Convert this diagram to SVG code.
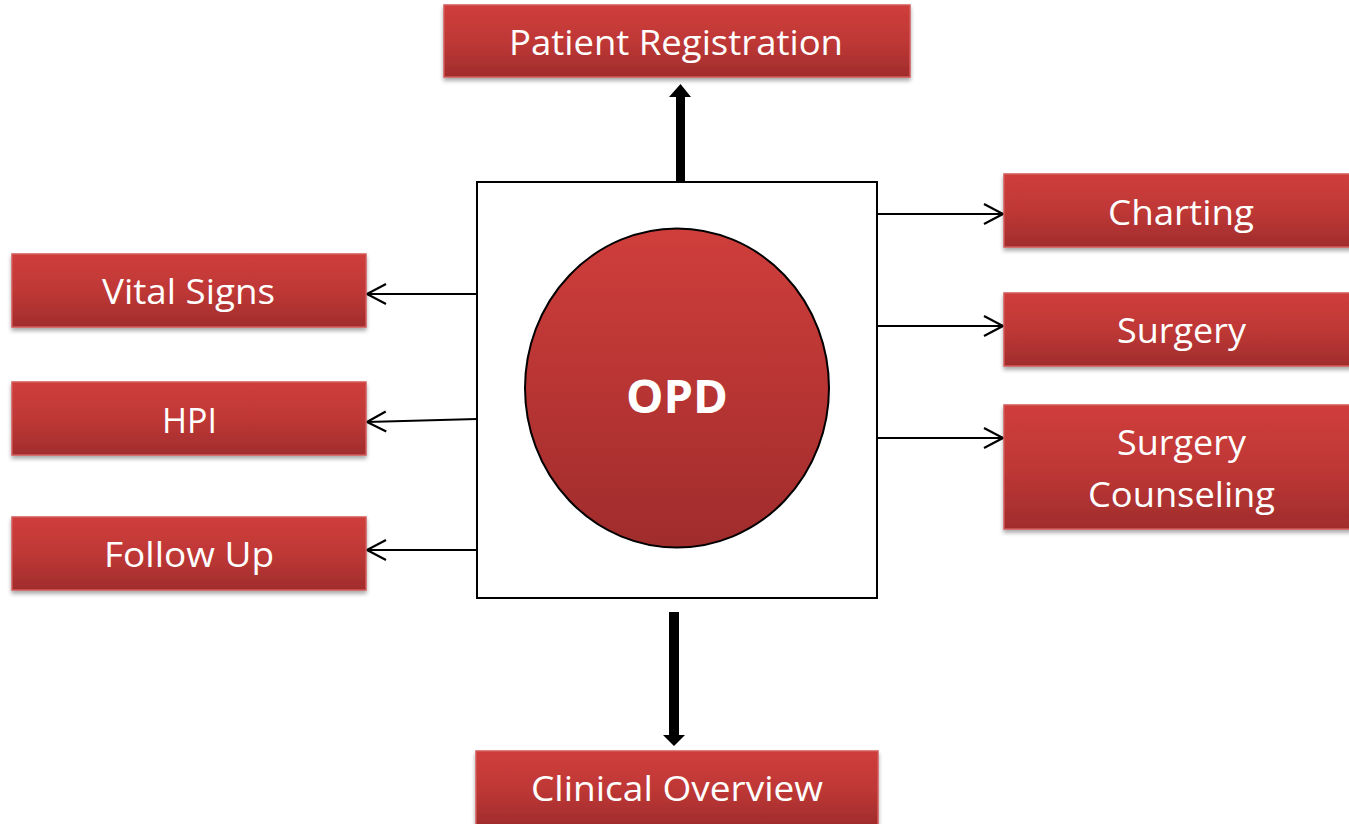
<svg xmlns="http://www.w3.org/2000/svg" width="1349" height="824" viewBox="0 0 1349 824">
<style>
.box{fill:url(#redg);stroke:#d25a58;stroke-width:1.5;filter:url(#sh)}
.lbl{font-family:"Open Sans","Liberation Sans",sans-serif;font-size:34px;fill:#ffffff;text-anchor:middle}
.thin{stroke:#000;stroke-width:2;fill:none;marker-end:url(#open)}
.thick{fill:#000}
</style>
<defs>
<linearGradient id="redg" x1="0" y1="0" x2="0" y2="1">
<stop offset="0" stop-color="#cf3d3b"/>
<stop offset="0.5" stop-color="#bf3836"/>
<stop offset="1" stop-color="#a12c2c"/>
</linearGradient>
<linearGradient id="circg" x1="0" y1="0" x2="0" y2="1">
<stop offset="0" stop-color="#cf3e3b"/>
<stop offset="1" stop-color="#a02c2c"/>
</linearGradient>
<filter id="sh" x="-5%" y="-10%" width="110%" height="130%">
<feGaussianBlur in="SourceAlpha" stdDeviation="2"/>
<feOffset dy="3" result="b"/>
<feComponentTransfer><feFuncA type="linear" slope="0.35"/></feComponentTransfer>
<feMerge><feMergeNode/><feMergeNode in="SourceGraphic"/></feMerge>
</filter>
<marker id="open" markerUnits="userSpaceOnUse" markerWidth="24" markerHeight="24" viewBox="-20 -12 24 24" refX="0" refY="0" orient="auto">
<path d="M-19,-10 L0,0 L-19,10" fill="none" stroke="#000" stroke-width="2.2"/>
</marker>
</defs>
<rect width="1349" height="824" fill="#fff"/>

<g id="center">
<rect x="477" y="182" width="400" height="416" fill="#fff" stroke="#000" stroke-width="2"/>
<ellipse cx="677" cy="388" rx="152" ry="159.5" fill="url(#circg)" stroke="#000" stroke-width="2"/>
<text x="677" y="413" font-family="'Open Sans','Liberation Sans',sans-serif" font-size="46" font-weight="bold" fill="#fff" text-anchor="middle" textLength="102" lengthAdjust="spacingAndGlyphs">OPD</text>
</g>

<g id="connectors">
<polygon class="thick" points="676,183 685,183 685,97 691,97 680.5,84 669,97 676,97"/>
<polygon class="thick" points="669,612 679,612 679,735 685,735 674,746 663,735 669,735"/>
<line class="thin" x1="477" y1="294" x2="367" y2="294"/>
<line class="thin" x1="477" y1="419" x2="367" y2="422"/>
<line class="thin" x1="477" y1="550" x2="367" y2="550"/>
<line class="thin" x1="877" y1="214" x2="1003" y2="214"/>
<line class="thin" x1="877" y1="326" x2="1003" y2="326"/>
<line class="thin" x1="877" y1="438" x2="1003" y2="438"/>
</g>

<g id="patient-registration">
<rect class="box" x="444" y="5" width="466" height="72"/>
<text class="lbl" x="676" y="55" textLength="334" lengthAdjust="spacingAndGlyphs">Patient Registration</text>
</g>
<g id="vital-signs">
<rect class="box" x="12" y="254" width="354" height="73"/>
<text class="lbl" x="188.5" y="304" textLength="173" lengthAdjust="spacingAndGlyphs">Vital Signs</text>
</g>
<g id="hpi">
<rect class="box" x="12" y="382" width="354" height="73"/>
<text class="lbl" x="189.5" y="433" textLength="55" lengthAdjust="spacingAndGlyphs">HPI</text>
</g>
<g id="follow-up">
<rect class="box" x="12" y="517" width="354" height="73"/>
<text class="lbl" x="189" y="567" textLength="170" lengthAdjust="spacingAndGlyphs">Follow Up</text>
</g>
<g id="charting">
<rect class="box" x="1004" y="174" width="360" height="73"/>
<text class="lbl" x="1181" y="225" textLength="146" lengthAdjust="spacingAndGlyphs">Charting</text>
</g>
<g id="surgery">
<rect class="box" x="1004" y="293" width="360" height="73"/>
<text class="lbl" x="1181.5" y="343" textLength="129" lengthAdjust="spacingAndGlyphs">Surgery</text>
</g>
<g id="surgery-counseling">
<rect class="box" x="1004" y="405" width="360" height="124"/>
<text class="lbl" x="1181.5" y="455" textLength="129" lengthAdjust="spacingAndGlyphs">Surgery</text>
<text class="lbl" x="1181.5" y="507" textLength="187" lengthAdjust="spacingAndGlyphs">Counseling</text>
</g>
<g id="clinical-overview">
<rect class="box" x="476" y="751" width="402" height="74"/>
<text class="lbl" x="677" y="801" textLength="292" lengthAdjust="spacingAndGlyphs">Clinical Overview</text>
</g>
</svg>
